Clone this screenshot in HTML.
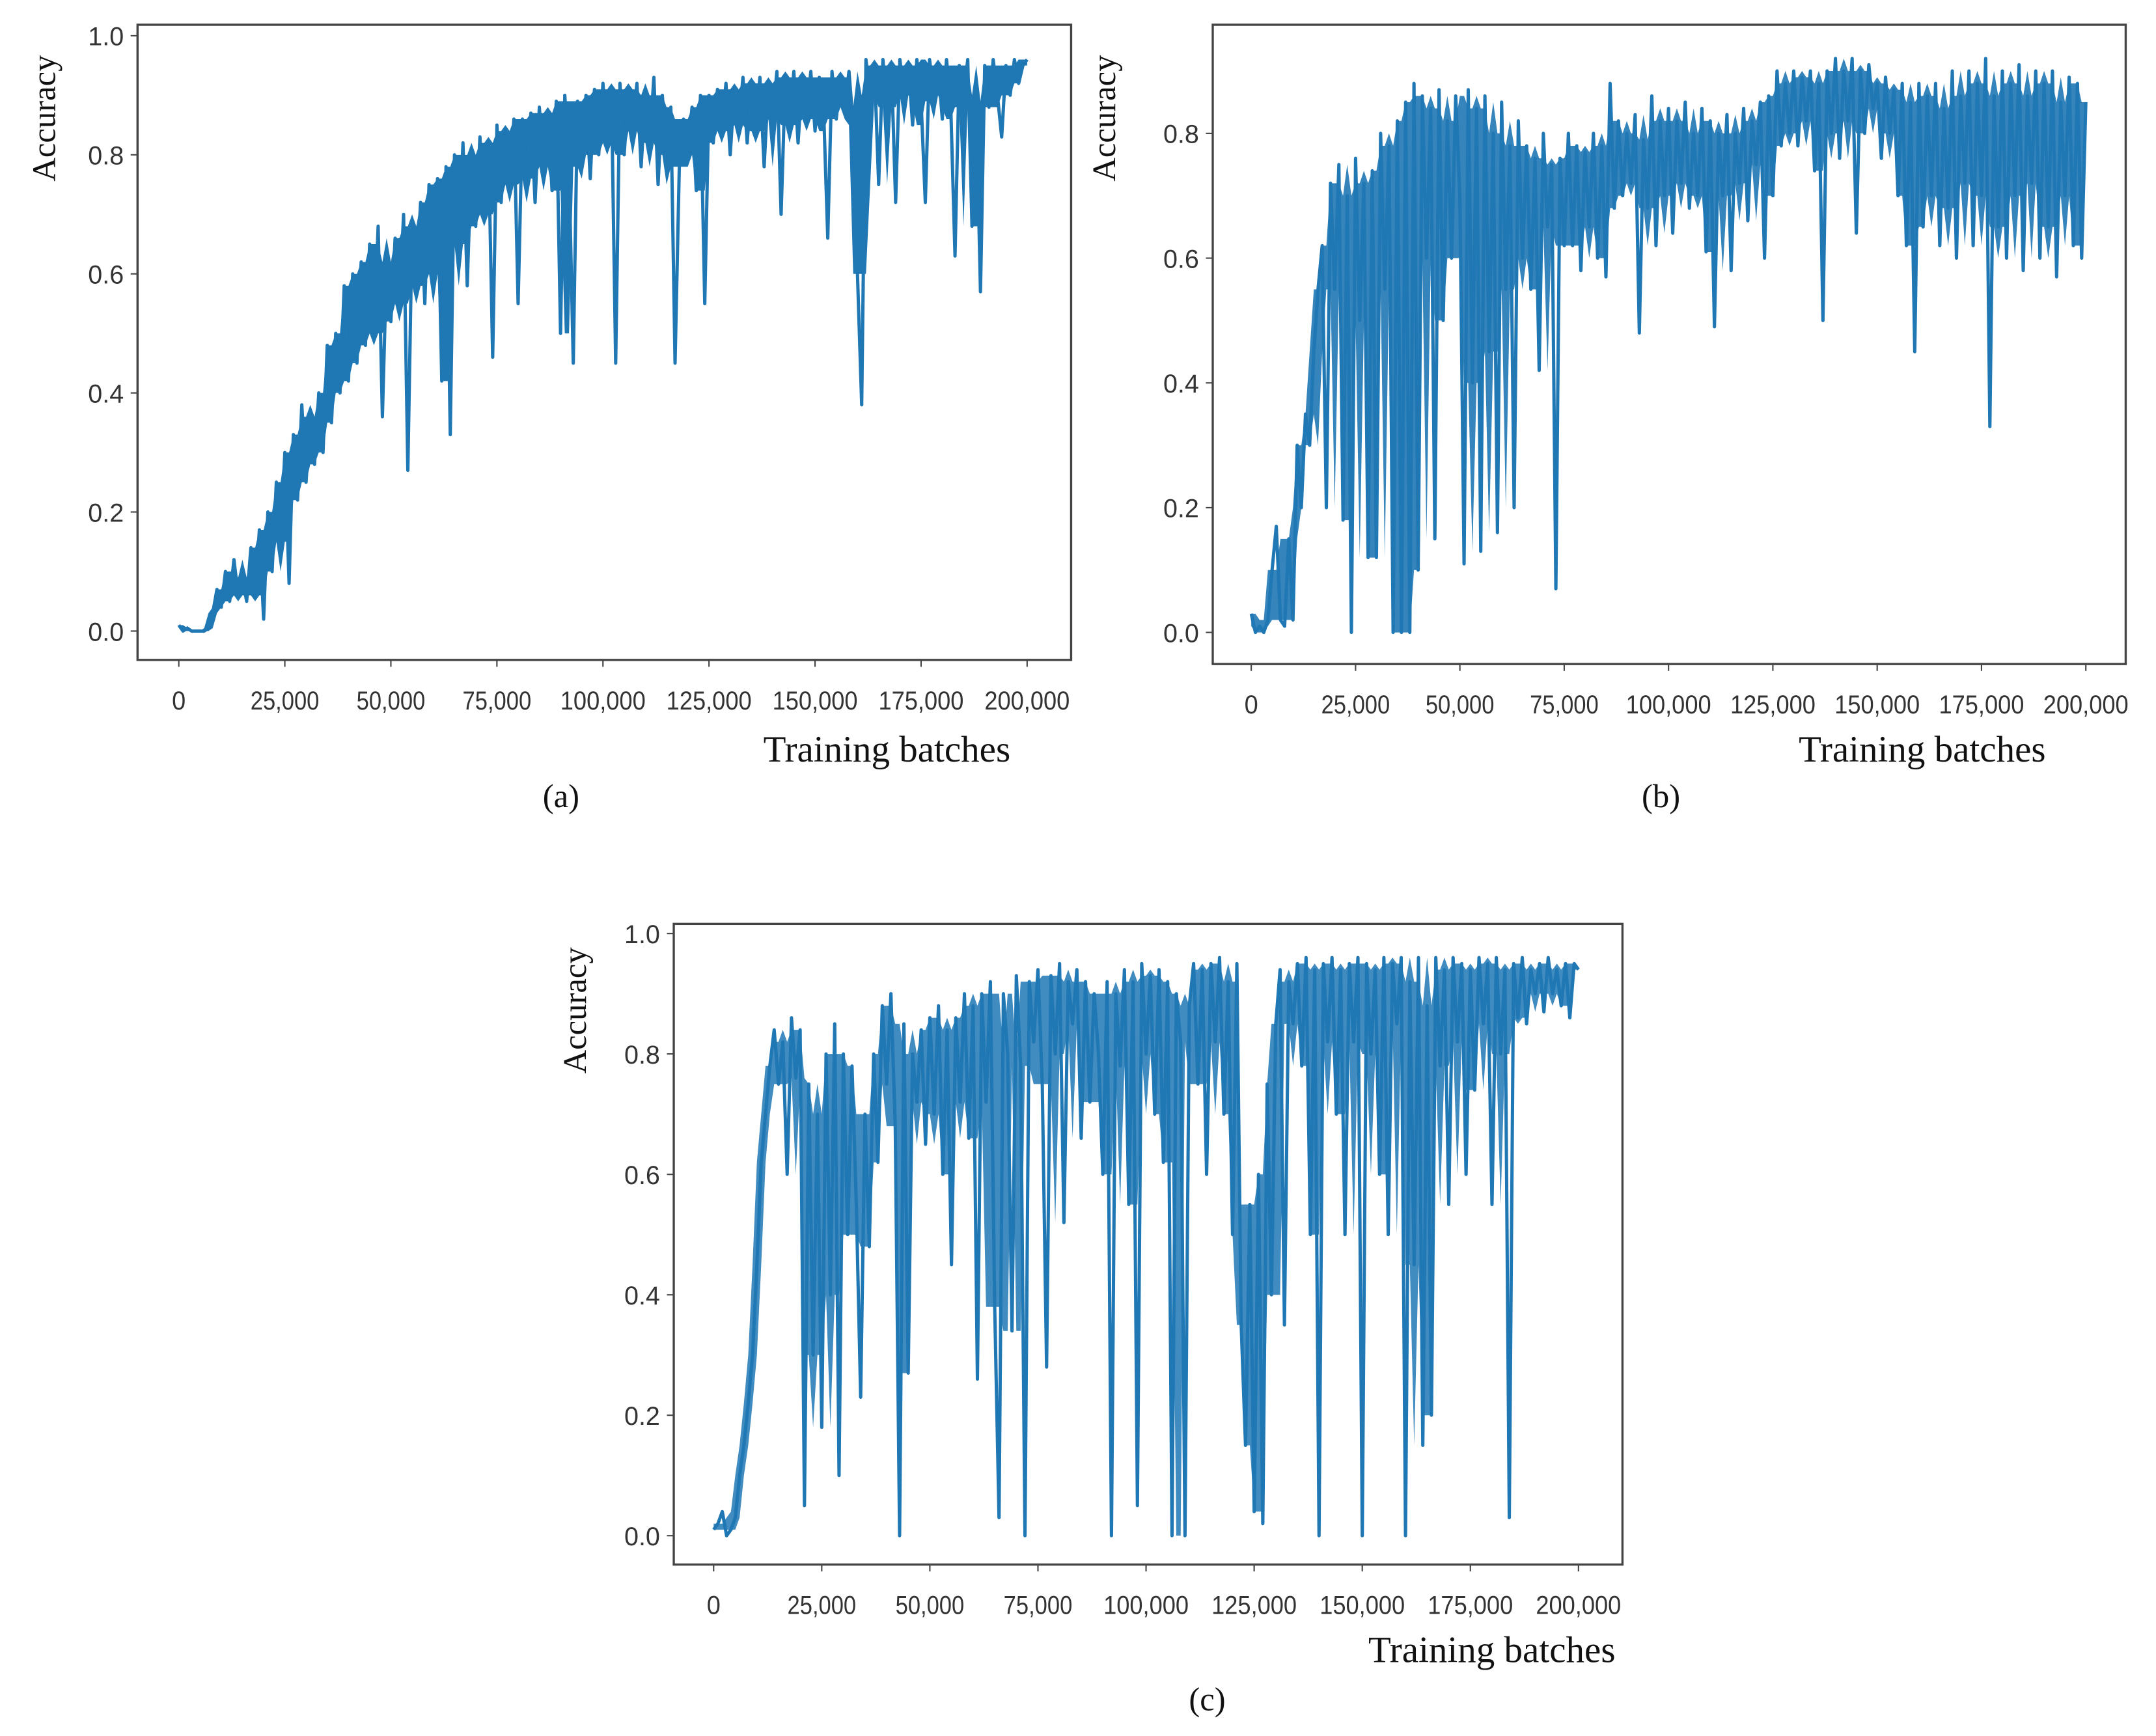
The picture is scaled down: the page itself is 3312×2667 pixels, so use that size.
<!DOCTYPE html>
<html><head><meta charset="utf-8"><style>
html,body{margin:0;padding:0;background:#fff}
svg{display:block}
.tk{font-family:"Liberation Sans",sans-serif;font-size:19px;fill:#333}
.lb{font-family:"Liberation Serif",serif;font-size:24px;fill:#111}
</style></head><body>
<svg id="fig" width="3312" height="2667" viewBox="0 0 1568 1262.7" xmlns="http://www.w3.org/2000/svg"></svg>
<script>
const seriesA=[.01,0,.005,0,0,0,0,.005,.03,.07,.04,.1,.05,.12,.06,.09,.05,.14,.06,.17,.02,.2,.1,.25,.15,.3,.08,.33,.22,.38,.25,.36,.28,.4,.3,.48,.35,.5,.4,.58,.42,.6,.45,.62,.48,.65,.5,.68,.36,.62,.52,.66,.55,.7,.27,.68,.58,.72,.55,.75,.6,.76,.42,.78,.33,.8,.65,.82,.58,.8,.68,.83,.7,.82,.46,.85,.72,.84,.75,.86,.55,.86,.76,.87,.72,.88,.78,.87,.74,.89,.5,.9,.78,.45,.89,.8,.9,.76,.91,.8,.92,.82,.91,.45,.92,.8,.91,.84,.92,.78,.9,.82,.93,.75,.9,.8,.88,.45,.78,.86,.8,.88,.74,.9,.55,.9,.82,.91,.84,.92,.8,.91,.85,.93,.82,.92,.84,.93,.78,.92,.86,.94,.7,.93,.85,.94,.82,.93,.86,.94,.84,.93,.88,.66,.94,.86,.93,.88,.94,.85,.6,.38,.96,.9,.95,.75,.96,.88,.95,.72,.96,.9,.95,.85,.96,.89,.72,.96,.9,.95,.86,.96,.88,.63,.95,.9,.96,.68,.89,.57,.95,.88,.96,.9,.83,.95,.9,.96,.92,.95,.96];
const seriesB=[.03,0,.01,0,.02,.1,.17,.02,.01,.15,.02,.3,.2,.35,.3,.45,.55,.62,.2,.72,.55,.75,.18,.7,0,.76,.5,.72,.12,.74,.12,.8,.55,.78,0,.82,0,.85,0,.88,.1,.86,.6,.84,.15,.87,.5,.82,.6,.86,.7,.11,.87,.4,.84,.13,.86,.45,.8,.16,.85,.55,.78,.2,.82,.6,.78,.55,.76,.42,.8,.65,.75,.07,.76,.62,.8,.62,.78,.58,.77,.65,.8,.6,.78,.57,.88,.68,.82,.7,.8,.72,.83,.48,.79,.68,.86,.62,.82,.7,.84,.64,.82,.72,.85,.68,.8,.7,.84,.61,.82,.49,.8,.7,.83,.58,.8,.72,.84,.66,.82,.75,.85,.6,.86,.7,.9,.78,.88,.8,.9,.78,.89,.82,.9,.74,.88,.5,.9,.8,.92,.76,.9,.82,.92,.64,.9,.8,.91,.84,.88,.76,.89,.8,.87,.7,.88,.62,.85,.45,.88,.65,.86,.7,.88,.62,.84,.68,.9,.6,.86,.72,.9,.62,.88,.7,.92,.33,.86,.65,.9,.6,.88,.7,.91,.58,.86,.72,.9,.6,.88,.65,.9,.57,.85,.7,.89,.62,.88,.6,.85];
const seriesC=[.01,.02,.04,0,.01,.03,.1,.15,.22,.3,.45,.62,.7,.78,.84,.75,.82,.6,.86,.76,.84,.05,.75,.3,.7,.18,.8,.4,.85,.1,.8,.5,.78,.55,.23,.7,.48,.8,.62,.88,.75,.9,.68,0,.85,.27,.8,.72,.84,.65,.86,.7,.88,.6,.84,.45,.86,.72,.9,.66,.88,.26,.9,.72,.92,.38,.03,.9,.8,.34,.93,.78,0,.92,.82,.94,.75,.28,.93,.8,.95,.52,.92,.85,.94,.66,.92,.72,.9,.8,.6,.92,0,.9,.78,.94,.55,.92,.05,.95,.8,.93,.7,.94,.62,.92,0,.9,.82,0,.88,.95,.75,.94,.6,.95,.82,.96,.7,.92,.5,.95,.35,.15,.55,.04,.6,.02,.75,.4,.85,.94,.35,.92,.85,.95,.78,.96,.5,.94,0,.95,.82,.96,.7,.94,.5,.95,.82,.96,0,.95,.8,.94,.6,.96,.5,.95,.85,.96,0,.92,.45,.96,.15,.88,.2,.96,.78,.94,.55,.96,.82,.95,.6,.94,.74,.96,.85,.95,.55,.96,.8,.94,.03,.95,.86,.96,.85,.94,.9,.95,.87,.96,.9,.94,.88,.95,.86,.95,.94];
const xTicks=[0,25000,50000,75000,100000,125000,150000,175000,200000];
const xTickLabels=["0","25,000","50,000","75,000","100,000","125,000","150,000","175,000","200,000"];
const yTicksA=[0,0.2,0.4,0.6,0.8,1.0];
const yTicksB=[0,0.2,0.4,0.6,0.8];
const yTickLabelsA=["0.0","0.2","0.4","0.6","0.8","1.0"];
const yTickLabelsB=["0.0","0.2","0.4","0.6","0.8"];
const xMax=200000;

const NS="http://www.w3.org/2000/svg";
const svg=document.getElementById('fig');
function mk(tag,attrs,parent){const e=document.createElementNS(NS,tag);for(const k in attrs)e.setAttribute(k,attrs[k]);(parent||svg).appendChild(e);return e;}

function panel(cfg){
  const g=mk('g',{});
  
  
  const xs=v=>cfg.x0+(cfg.x1-cfg.x0)*v/xMax;
  const ys=v=>cfg.y0-(cfg.y0-cfg.y1)*v/cfg.yTop;
  const data=cfg.data, n=data.length;
  const xi=i=>xs(i*xMax/(n-1));
  let up=[],lo=[];
  for(let i=0;i<n;i++){
    const w=[];
    for(let k=-2;k<=2;k++)w.push(data[Math.min(n-1,Math.max(0,i+k))]);
    w.sort((a,b)=>a-b);
    up.push(w[3]);lo.push(w[1]);
  }
  let bd='';
  for(let i=0;i<n;i++)bd+=(i?'L':'M')+xi(i).toFixed(2)+' '+ys(up[i]).toFixed(2);
  for(let i=n-1;i>=0;i--)bd+='L'+xi(i).toFixed(2)+' '+ys(lo[i]).toFixed(2);
  const band=mk('path',{d:bd+'Z',fill:'#1f77b4',stroke:'none','fill-opacity':cfg.bandOp},g);
  
  
  let d='';
  data.forEach((v,i)=>{d+=(i?'L':'M')+xi(i).toFixed(2)+' '+ys(v).toFixed(2);});
  const p=mk('path',{d:d,fill:'none',stroke:'#1f77b4','stroke-width':2.4,'stroke-linejoin':'round'},g);
  
  
  const fr=mk('rect',{x:cfg.bl,y:cfg.bt,width:cfg.br-cfg.bl,height:cfg.bb-cfg.bt,fill:'none',stroke:'#444','stroke-width':1.6},g);
  
  
  xTicks.forEach((t,i)=>{
    const x=xs(t);
    mk('line',{x1:x,x2:x,y1:cfg.bb,y2:cfg.bb+5,stroke:'#444','stroke-width':1},g);
    const tx=mk('text',{x:x,y:cfg.bb+36,'text-anchor':'middle',class:'tk',textLength:i==0?10:(i<4?50:62),lengthAdjust:'spacingAndGlyphs'},g);
    tx.textContent=xTickLabels[i];
    
    
  });
  cfg.yTicks.forEach((t,i)=>{
    const y=ys(t);
    mk('line',{x1:cfg.bl-5,x2:cfg.bl,y1:y,y2:y,stroke:'#444','stroke-width':1},g);
    const tx=mk('text',{x:cfg.bl-10,y:y+7,'text-anchor':'end',class:'tk',textLength:26,lengthAdjust:'spacingAndGlyphs'},g);
    tx.textContent=cfg.yLabels[i];
    
    
  });
  const yl=mk('text',{x:0,y:0,'text-anchor':'middle',class:'lb',transform:`translate(${cfg.ylx},${cfg.yly}) rotate(-90)`},g);
  yl.textContent='Accuracy';
  
  
  const xl=mk('text',{x:cfg.xlx,y:cfg.xly,'text-anchor':'middle',class:'lb',style:'font-size:27px'},g);
  xl.textContent='Training batches';
  
  
  const cap=mk('text',{x:cfg.cx,y:cfg.cy,'text-anchor':'middle',class:'lb',style:'font-size:24px'},g);
  cap.textContent=cfg.cap;
  
  
}
panel({name:'panel-a',data:seriesA,bandOp:1,x0:130,x1:747,y0:459,y1:26,yTop:1.0,bl:100,br:779,bt:18,bb:480,yTicks:yTicksA,yLabels:yTickLabelsA,ylx:40,yly:86,xlx:645,xly:554,cx:408,cy:587,cap:'(a)'});
panel({name:'panel-b',data:seriesB,bandOp:0.9,x0:910,x1:1517,y0:460,y1:97,yTop:0.8,bl:882,br:1546,bt:18,bb:483,yTicks:yTicksB,yLabels:yTickLabelsB,ylx:811,yly:86,xlx:1398,xly:554,cx:1208,cy:587,cap:'(b)'});
panel({name:'panel-c',data:seriesC,bandOp:0.85,x0:519,x1:1148,y0:1117,y1:679,yTop:1.0,bl:490,br:1180,bt:672,bb:1138,yTicks:yTicksA,yLabels:yTickLabelsA,ylx:426,yly:735,xlx:1085,xly:1209,cx:878,cy:1244,cap:'(c)'});
</script>
</body></html>
